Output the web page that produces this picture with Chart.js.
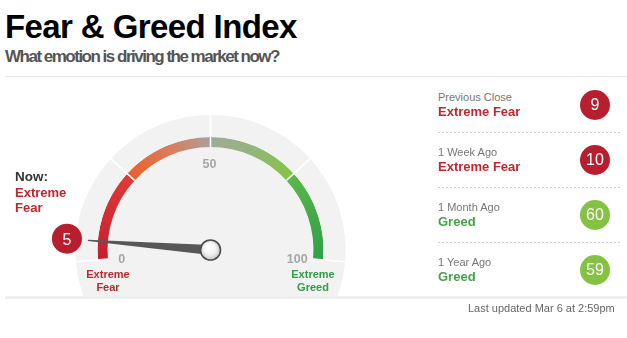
<!DOCTYPE html>
<html>
<head>
<meta charset="utf-8">
<script src="https://cdn.jsdelivr.net/npm/chart.js@4.4.1/dist/chart.umd.min.js"></script>
<style>
html,body{margin:0;padding:0;background:#fff;}
body{width:627px;height:338px;position:relative;overflow:hidden;font-family:"Liberation Sans",Arial,Helvetica,sans-serif;}
.t{position:absolute;white-space:nowrap;line-height:1;}
.rule{position:absolute;left:5px;width:622px;}
#gaugeBox{position:absolute;left:0;top:80px;width:420px;height:217px;overflow:hidden;}
#gauge{position:absolute;left:0;top:0;}
.dash{position:absolute;left:438px;width:182px;height:1px;background-image:repeating-linear-gradient(90deg,#cfcfcf 0 2px,transparent 2px 4px);}
.badge{position:absolute;width:30px;height:30px;border-radius:50%;color:#fff;font-size:16px;line-height:30px;text-align:center;}
.wrap{position:absolute;white-space:normal;font-weight:bold;}
</style>
</head>
<body>
<div class="t" style="left:5px;top:9.6px;font-size:33px;font-weight:bold;letter-spacing:-0.6px;color:#000;">Fear &amp; Greed Index</div>
<div class="t" style="left:5px;top:47.6px;font-size:17px;font-weight:bold;letter-spacing:-1.5px;color:#555;">What emotion is driving the market now?</div>
<div class="rule" style="top:76px;height:1px;background:#e6e6e6;"></div>

<div id="gaugeBox"><canvas id="gauge" width="420" height="340"></canvas></div>
<div class="rule" style="top:296px;height:3px;background:#eeeeee;"></div>

<div class="t" id="nowHead" style="left:15px;top:169.6px;font-size:13.5px;font-weight:bold;color:#333;">Now:</div>
<div class="wrap" id="nowRating" style="left:15px;top:184.5px;width:56px;font-size:13px;line-height:15px;color:#c0272d;"></div>
<div class="wrap" id="endLeft" style="left:78px;top:268.4px;width:60px;text-align:center;font-size:11px;line-height:12.5px;color:#c0272d;"></div>
<div class="wrap" id="endRight" style="left:283px;top:268.4px;width:60px;text-align:center;font-size:11px;line-height:12.5px;color:#2f9e48;"></div>

<div id="panel"></div>
<div class="t" id="updated" style="left:468px;top:303.4px;font-size:11px;color:#666;"></div>

<script>
// ---------- data ----------
const ZONES = ['Extreme Fear', 'Fear', 'Greed', 'Extreme Greed'];
const ZONE_SIZES = [25, 25, 25, 25];
const TICKS = [0, 50, 100];
const NOW_VALUE = 5;
const NOW_RATING = 'Extreme Fear';
const HISTORY_LABELS = ['Previous Close', '1 Week Ago', '1 Month Ago', '1 Year Ago'];
const HISTORY_VALUES = [9, 10, 60, 59];
const HISTORY_RATINGS = ['Extreme Fear', 'Extreme Fear', 'Greed', 'Greed'];
const UPDATED_TEXT = 'Last updated Mar 6 at 2:59pm';

// ---------- styles ----------
const ZONE_GRADS = [
  ['#c41f2d', '#d32c33', '#de3b36'],
  ['#eb5e2c', '#dc7a58', '#aba09c'],
  ['#a0a89c', '#93b57a', '#86c441'],
  ['#5ab74a', '#44aa48', '#30a048']
];
const RED = '#c0272d', GREEN = '#45a248';
const BADGE_RED = '#b81f2e', BADGE_GREEN = '#84c341';
const GREY = '#f2f2f2';
const SCALE_MAX = 100;

// ---------- html text ----------
document.getElementById('nowRating').textContent = NOW_RATING;
document.getElementById('endLeft').textContent = ZONES[0];
document.getElementById('endRight').textContent = ZONES[ZONES.length - 1];
document.getElementById('updated').textContent = UPDATED_TEXT;

const panel = document.getElementById('panel');
function isFear(r) { return /Fear/.test(r); }
HISTORY_LABELS.forEach((lab, i) => {
  const y = 55 * i;
  const a = document.createElement('div');
  a.className = 't'; a.textContent = lab;
  a.style.cssText = `left:438px;top:${91.7 + y}px;font-size:11px;color:#777;`;
  panel.appendChild(a);
  const b = document.createElement('div');
  b.className = 't'; b.textContent = HISTORY_RATINGS[i];
  b.style.cssText = `left:438px;top:${105 + y}px;font-size:13px;font-weight:bold;color:${isFear(HISTORY_RATINGS[i]) ? RED : GREEN};`;
  panel.appendChild(b);
  const c = document.createElement('div');
  c.className = 'badge'; c.textContent = HISTORY_VALUES[i];
  c.style.cssText = `left:580px;top:${89.5 + y}px;background:${HISTORY_VALUES[i] < 50 ? BADGE_RED : BADGE_GREEN};`;
  panel.appendChild(c);
  if (i < HISTORY_LABELS.length - 1) {
    const d = document.createElement('div');
    d.className = 'dash';
    d.style.top = (132 + y) + 'px';
    panel.appendChild(d);
  }
});

// ---------- gauge ----------
function gaugeGeom(chart) {
  const outer = chart.getDatasetMeta(0).data[0];
  const arcs = chart.getDatasetMeta(1).data;
  const a0 = arcs[0].startAngle, a1 = arcs[arcs.length - 1].endAngle;
  return { cx: arcs[0].x, cy: arcs[0].y, R: outer.outerRadius, rIn: arcs[0].innerRadius, rOut: arcs[0].outerRadius, a0, a1, arcs,
           ang: v => a0 + (v / SCALE_MAX) * (a1 - a0) };
}

const gaugePlugin = {
  id: 'gaugeExtras',
  beforeDatasetsDraw(chart) {
    const g = gaugeGeom(chart), ctx = chart.ctx;
    ctx.save();
    ctx.fillStyle = GREY;
    ctx.beginPath(); ctx.arc(g.cx, g.cy, g.R, 0, Math.PI * 2); ctx.fill();
    ctx.restore();
  },
  afterDatasetsDraw(chart) {
    const g = gaugeGeom(chart), ctx = chart.ctx;
    ctx.save();
    // dividers
    const bounds = g.arcs.map(a => a.startAngle).concat([g.a1]);
    ctx.strokeStyle = '#ffffff'; ctx.lineWidth = 1.6;
    bounds.forEach(a => {
      ctx.beginPath();
      ctx.moveTo(g.cx + g.rIn * Math.cos(a), g.cy + g.rIn * Math.sin(a));
      ctx.lineTo(g.cx + g.R * Math.cos(a), g.cy + g.R * Math.sin(a));
      ctx.stroke();
    });
    // tick labels
    ctx.fillStyle = '#a6a6a6';
    ctx.font = 'bold 12.5px "Liberation Sans", Arial, sans-serif';
    ctx.textAlign = 'center'; ctx.textBaseline = 'alphabetic';
    TICKS.forEach(t => {
      const a = g.ang(t), r = 88;
      ctx.fillText(String(t), g.cx + r * Math.cos(a) - 1, g.cy + r * Math.sin(a) + 5.5);
    });
    // needle
    const an = g.ang(NOW_VALUE), L = 123, w0 = 5, w1 = 0.6;
    const ux = Math.cos(an), uy = Math.sin(an), px = -uy, py = ux;
    ctx.fillStyle = '#575757';
    ctx.beginPath();
    ctx.moveTo(g.cx + px * w0, g.cy + py * w0);
    ctx.lineTo(g.cx + ux * L + px * w1, g.cy + uy * L + py * w1);
    ctx.lineTo(g.cx + ux * L - px * w1, g.cy + uy * L - py * w1);
    ctx.lineTo(g.cx - px * w0, g.cy - py * w0);
    ctx.closePath(); ctx.fill();
    // hub
    const hr = 10;
    const hg = ctx.createRadialGradient(g.cx - 2, g.cy - 4, 1, g.cx, g.cy, hr);
    hg.addColorStop(0, '#ffffff'); hg.addColorStop(0.55, '#f3f3f3'); hg.addColorStop(1, '#c9c9c9');
    ctx.fillStyle = hg;
    ctx.strokeStyle = '#4d4d4d'; ctx.lineWidth = 1.6;
    ctx.beginPath(); ctx.arc(g.cx, g.cy, hr, 0, Math.PI * 2); ctx.fill(); ctx.stroke();
    // current value badge
    const rb = 144, bx = g.cx + rb * ux, by = g.cy + rb * uy;
    ctx.fillStyle = BADGE_RED;
    ctx.beginPath(); ctx.arc(bx, by, 15, 0, Math.PI * 2); ctx.fill();
    ctx.fillStyle = '#ffffff';
    ctx.font = '16px "Liberation Sans", Arial, sans-serif';
    ctx.textAlign = 'center'; ctx.textBaseline = 'alphabetic';
    ctx.fillText(String(NOW_VALUE), bx, by + 5.8);
    ctx.restore();
  }
};

function zoneFill(c) {
  const cols = ZONE_GRADS[c.dataIndex % ZONE_GRADS.length];
  const el = c.element;
  if (!el || el.startAngle === undefined || !c.chart.ctx.createConicGradient) return cols[0];
  const gr = c.chart.ctx.createConicGradient(el.startAngle, el.x, el.y);
  const span = (el.endAngle - el.startAngle) / (Math.PI * 2);
  cols.forEach((col, k) => gr.addColorStop(span * k / (cols.length - 1), col));
  gr.addColorStop(1, cols[cols.length - 1]);
  return gr;
}

const chart = new Chart(document.getElementById('gauge'), {
  type: 'doughnut',
  data: {
    labels: ZONES,
    datasets: [
      { data: [SCALE_MAX], backgroundColor: GREY, borderWidth: 0, weight: 22 },
      { data: ZONE_SIZES, backgroundColor: zoneFill, borderWidth: 0, weight: 10, rotation: -95, circumference: 190 }
    ]
  },
  options: {
    responsive: false,
    animation: false,
    events: [],
    cutout: '76.3%',
    layout: { padding: { left: 75.5, right: 74.5, top: 35, bottom: 35 } },
    plugins: { legend: { display: false }, tooltip: { enabled: false } }
  },
  plugins: [gaugePlugin]
});
chart.update();
</script>
</body>
</html>
